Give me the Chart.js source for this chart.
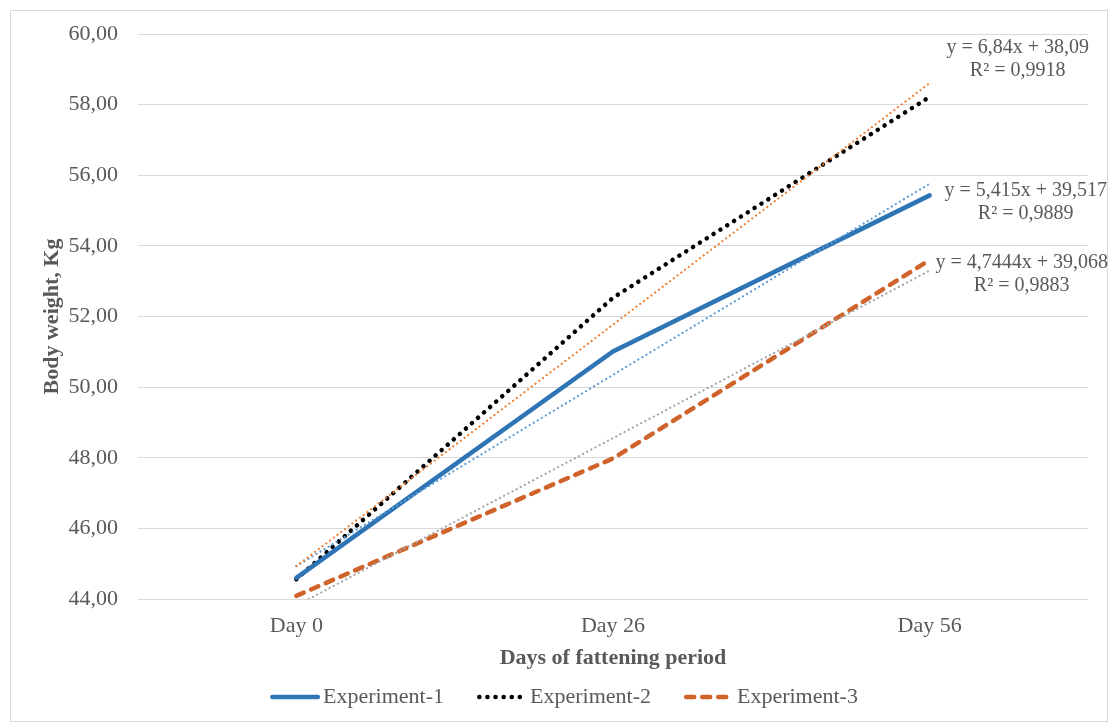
<!DOCTYPE html>
<html>
<head>
<meta charset="utf-8">
<script src="https://cdn.jsdelivr.net/npm/chart.js@4"></script>
<style>
  html, body { margin: 0; padding: 0; background: #ffffff; }
  #wrap { position: relative; width: 1112px; height: 723px; }
  canvas { display: block; }
</style>
</head>
<body>
<div id="wrap"><canvas id="chart" width="1112" height="723"></canvas></div>
<script>
// Body weight during fattening, kg
const days = ['Day 0', 'Day 26', 'Day 56'];
const experiment1 = [44.60, 51.01, 55.43];
const experiment2 = [44.56, 52.53, 58.22];
const experiment3 = [44.09, 47.98, 53.60];

// Linear trend coefficients (x = 1, 2, 3) and R²
const trend1 = { slope: 5.415, intercept: 39.517, r2: '0,9889', eq: 'y = 5,415x + 39,517' };
const trend2 = { slope: 6.84, intercept: 38.09, r2: '0,9918', eq: 'y = 6,84x + 38,09' };
const trend3 = { slope: 4.7444, intercept: 39.068, r2: '0,9883', eq: 'y = 4,7444x + 39,068' };

const yTicks = { min: 44, max: 60, step: 2 };

const trendValues = t => days.map((_, i) => t.slope * (i + 1) + t.intercept);

const SERIF = "'Liberation Serif', 'Times New Roman', serif";
const GREY = '#595959';

// Frame around the whole chart
const framePlugin = {
  id: 'frame',
  beforeDraw(chart) {
    const ctx = chart.ctx;
    ctx.save();
    ctx.fillStyle = '#ffffff';
    ctx.fillRect(0, 0, chart.width, chart.height);
    ctx.strokeStyle = '#d9d9d9';
    ctx.lineWidth = 1;
    ctx.strokeRect(10.5, 10.5, 1097, 711);
    ctx.restore();
  }
};

// Trend equations placed to the right of each trend line end
const trendLabelPlugin = {
  id: 'trendLabels',
  afterDatasetsDraw(chart) {
    const ctx = chart.ctx;
    const x = chart.scales.x;
    const y = chart.scales.y;
    const items = [
      { t: trend2, dx: 88, dy: -35 },
      { t: trend1, dx: 96, dy: 7 },
      { t: trend3, dx: 92, dy: -8 }
    ];
    ctx.save();
    ctx.font = '20px ' + SERIF;
    ctx.fillStyle = GREY;
    ctx.textAlign = 'center';
    ctx.textBaseline = 'middle';
    items.forEach(({ t, dx, dy }) => {
      const last = trendValues(t)[days.length - 1];
      const px = x.getPixelForValue(days.length - 1) + dx;
      const py = y.getPixelForValue(last) + dy;
      ctx.fillText(t.eq, px, py);
      ctx.fillText('R² = ' + t.r2, px, py + 23);
    });
    ctx.restore();
  }
};

// Bottom legend: a line sample in each series' style, followed by its name
const seriesLegendPlugin = {
  id: 'seriesLegend',
  afterDraw(chart) {
    const ctx = chart.ctx;
    const sampleLen = 50, textGap = 3, itemGap = 33, centerX = 564, cy = 697;
    const series = chart.data.datasets.filter(ds => !ds.isTrend);
    ctx.save();
    ctx.font = '22px ' + SERIF;
    const widths = series.map(ds => ctx.measureText(ds.label).width);
    const total = widths.reduce((s, w) => s + sampleLen + textGap + w, 0) + itemGap * (series.length - 1);
    let x0 = centerX - total / 2;
    series.forEach((ds, i) => {
      ctx.beginPath();
      ctx.strokeStyle = ds.borderColor;
      ctx.lineWidth = ds.borderWidth;
      ctx.lineCap = ds.borderCapStyle || 'butt';
      ctx.setLineDash(ds.borderDash || []);
      const inset = ctx.lineCap === 'round' ? ds.borderWidth / 2 : 0;
      ctx.moveTo(x0 + inset, cy);
      ctx.lineTo(x0 + sampleLen - inset, cy);
      ctx.stroke();
      ctx.setLineDash([]);
      ctx.fillStyle = GREY;
      ctx.textAlign = 'left';
      ctx.textBaseline = 'middle';
      ctx.fillText(ds.label, x0 + sampleLen + textGap, cy);
      x0 += sampleLen + textGap + widths[i] + itemGap;
    });
    ctx.restore();
  }
};

const trendStyle = color => ({
  borderColor: color,
  backgroundColor: color,
  borderWidth: 2.2,
  borderDash: [0.1, 4.6],
  borderCapStyle: 'round',
  pointRadius: 0,
  fill: false,
  tension: 0,
  isTrend: true
});

new Chart(document.getElementById('chart'), {
  type: 'line',
  data: {
    labels: days,
    datasets: [
      Object.assign({ label: 'trend-2', data: trendValues(trend2) }, trendStyle('#ED7D31')),
      Object.assign({ label: 'trend-1', data: trendValues(trend1) }, trendStyle('#5B9BD5')),
      Object.assign({ label: 'trend-3', data: trendValues(trend3) }, trendStyle('#A5A5A5')),
      {
        label: 'Experiment-1',
        data: experiment1,
        borderColor: '#2E75B6',
        backgroundColor: '#2E75B6',
        borderWidth: 4.5,
        borderCapStyle: 'round',
        pointRadius: 0,
        tension: 0
      },
      {
        label: 'Experiment-2',
        data: experiment2,
        borderColor: '#000000',
        backgroundColor: '#000000',
        borderWidth: 4.5,
        borderDash: [0.1, 8],
        borderCapStyle: 'round',
        pointRadius: 0,
        tension: 0
      },
      {
        label: 'Experiment-3',
        data: experiment3,
        borderColor: '#D0632A',
        backgroundColor: '#D0632A',
        borderWidth: 4.5,
        borderDash: [8, 8],
        borderCapStyle: 'round',
        pointRadius: 0,
        tension: 0
      }
    ]
  },
  options: {
    responsive: false,
    animation: false,
    devicePixelRatio: 1,
    layout: { padding: { top: 34, right: 24, left: 24, bottom: 54 } },
    plugins: {
      tooltip: { enabled: false },
      legend: { display: false }
    },
    scales: {
      x: {
        offset: true,
        grid: { display: false, drawTicks: false },
        border: { display: false },
        ticks: { color: GREY, font: { family: SERIF, size: 22 }, padding: 14 },
        title: {
          display: true,
          text: 'Days of fattening period',
          color: GREY,
          font: { family: SERIF, size: 22, weight: 'bold', lineHeight: 1 },
          padding: { top: 0, bottom: 0 }
        },
        afterFit(scale) { scale.height = 70; }
      },
      y: {
        min: yTicks.min,
        max: yTicks.max,
        grid: { color: '#d9d9d9', lineWidth: 1, drawTicks: false },
        border: { display: false },
        ticks: {
          stepSize: yTicks.step,
          padding: 20,
          color: GREY,
          font: { family: SERIF, size: 22 },
          callback: v => v.toFixed(2).replace('.', ',')
        },
        title: {
          display: true,
          text: 'Body weight, Kg',
          color: GREY,
          font: { family: SERIF, size: 22, weight: 'bold', lineHeight: 1 },
          padding: { top: 17, bottom: 0 }
        },
        afterFit(scale) { scale.width = 114; }
      }
    }
  },
  plugins: [framePlugin, trendLabelPlugin, seriesLegendPlugin]
});
</script>
</body>
</html>
